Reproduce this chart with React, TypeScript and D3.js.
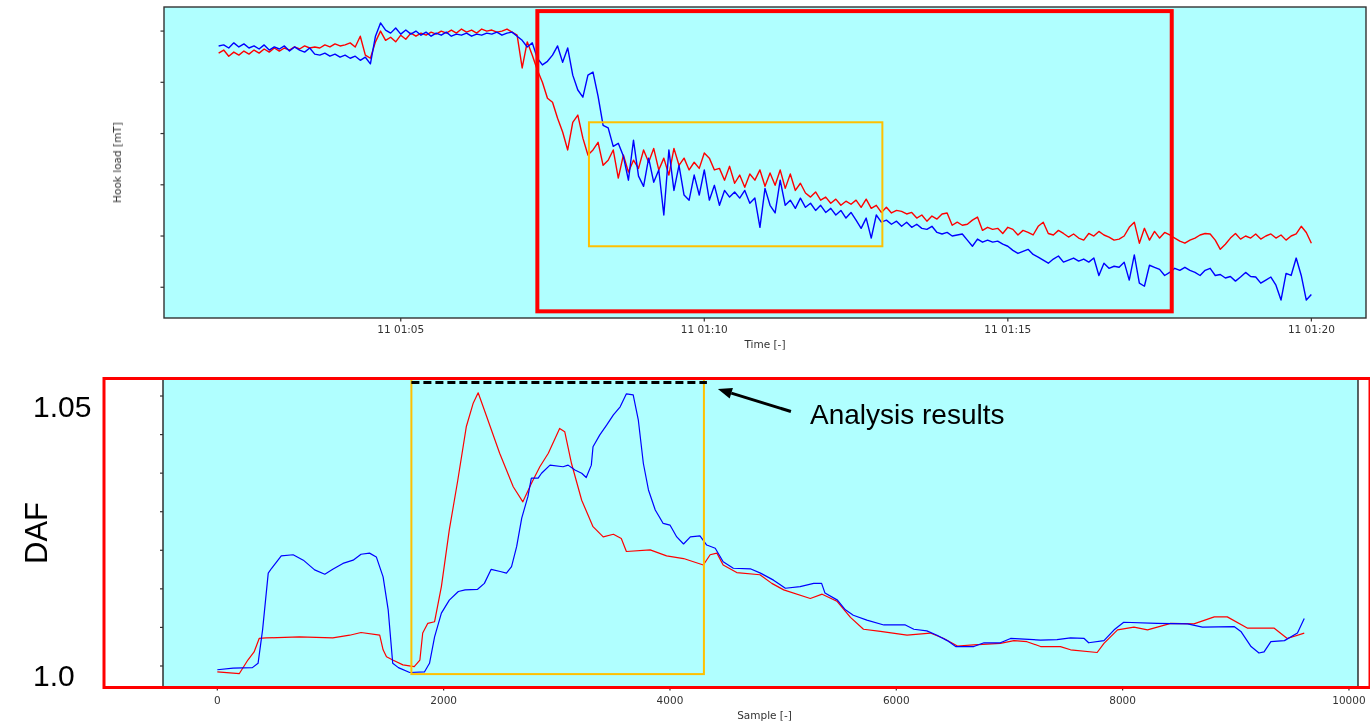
import React, { useEffect, useRef } from "react";
import * as d3 from "d3";

const W = 1370;
const H = 724;

// ---- Hook load record (upper panel), one value every 5 s from 11 01:02:00 ----
const hookStart = Date.UTC(2021, 0, 11, 1, 2, 0);
const hookStepSec = 5;

const hookLoadBlue = [
  107.1, 107.3, 106.7, 107.7, 106.9, 107.5, 106.7, 107.1, 106.5, 107.3,
  106.3, 106.9, 106.5, 107.1, 106.1, 106.9, 106.3, 105.9, 106.7, 105.5,
  105.3, 105.7, 105.1, 105.5, 104.9, 105.3, 104.7, 105.1, 104.3, 104.9,
  103.6, 109.0, 111.6, 110.2, 109.6, 110.6, 109.4, 110.2, 109.4, 110.0,
  109.2, 109.8, 109.0, 109.6, 109.2, 109.8, 109.0, 109.4, 109.2, 109.6,
  109.0, 109.4, 109.2, 109.6, 109.4, 109.8, 109.2, 109.6, 109.8, 109.0,
  108.2, 106.9, 107.7, 104.7, 103.4, 104.1, 105.3, 107.1, 103.9, 106.7,
  101.4, 98.5, 97.1, 101.4, 102.0, 97.3, 91.6, 91.1, 87.5, 88.1,
  85.6, 80.9, 88.7, 81.7, 79.7, 85.2, 80.5, 82.9, 74.1, 86.8,
  78.9, 83.8, 78.0, 77.0, 81.9, 78.0, 82.9, 77.0, 79.9, 76.0,
  78.9, 77.6, 78.6, 77.4, 78.9, 76.4, 77.4, 71.7, 79.3, 76.0,
  74.5, 80.9, 76.0, 77.0, 75.4, 77.4, 75.6, 76.4, 75.0, 76.0,
  74.6, 75.4, 74.1, 75.0, 73.5, 74.6, 73.1, 71.5, 73.5, 69.6,
  74.1, 72.7, 73.1, 72.3, 72.9, 71.9, 72.7, 71.7, 72.3, 71.5,
  71.3, 71.9, 70.7, 70.4, 70.7, 70.0, 70.2, 70.4, 69.2, 68.0,
  69.4, 68.8, 69.2, 68.8, 69.0, 68.4, 68.0, 67.2, 66.6, 67.0,
  67.4, 66.4, 65.9, 65.3, 64.7, 65.5, 66.1, 64.9, 65.3, 65.7,
  65.1, 65.5, 64.9, 65.7, 62.3, 64.7, 63.7, 64.1, 63.9, 64.9,
  61.4, 66.3, 60.8, 60.2, 64.3, 63.9, 63.5, 62.3, 62.9, 63.7,
  63.3, 63.9, 63.3, 62.9, 62.3, 63.3, 63.7, 62.3, 62.5, 61.8,
  62.1, 61.2, 62.0, 62.9, 62.1, 62.0, 60.8, 61.4, 62.0, 60.4,
  57.5, 62.7, 62.3, 65.7, 62.3, 57.5, 58.6,
];

const hookLoadRed = [
  105.7, 106.3, 105.1, 105.9, 105.3, 106.1, 105.5, 106.3, 105.7, 106.5,
  105.9, 106.7, 106.1, 106.7, 106.3, 106.9, 106.5, 107.1, 106.7, 106.9,
  106.7, 107.3, 106.9, 107.5, 107.1, 107.3, 107.7, 106.9, 109.0, 105.3,
  104.7, 107.9, 110.0, 108.2, 108.8, 107.9, 109.2, 108.4, 109.6, 109.0,
  109.6, 109.2, 109.8, 109.4, 110.0, 109.6, 110.2, 109.6, 110.4, 109.8,
  110.2, 109.6, 110.4, 110.0, 110.2, 109.8, 110.0, 110.4, 109.8, 109.2,
  102.8, 107.9, 105.3, 102.4, 100.0, 96.9, 96.1, 93.0, 90.3, 86.8,
  92.2, 93.6, 89.1, 85.8, 86.8, 88.3, 83.8, 84.8, 86.8, 81.3,
  85.8, 82.5, 84.8, 83.2, 86.8, 84.4, 87.1, 82.9, 85.2, 81.9,
  87.1, 83.8, 85.2, 82.9, 84.4, 83.2, 86.2, 85.2, 82.9, 83.2,
  80.9, 83.6, 80.3, 81.9, 79.5, 82.1, 80.9, 82.9, 79.7, 82.3,
  79.9, 82.9, 79.3, 82.1, 78.9, 80.3, 78.4, 77.6, 78.6, 77.0,
  77.6, 76.4, 77.2, 76.0, 76.8, 76.2, 77.0, 75.6, 77.2, 75.4,
  76.0, 74.6, 75.6, 74.5, 75.0, 74.8, 74.3, 74.6, 73.5, 74.1,
  72.9, 73.9, 73.3, 74.3, 74.5, 72.1, 72.7, 72.1, 72.3, 73.1,
  73.7, 71.1, 71.7, 71.3, 71.5, 70.5, 71.7, 71.3, 70.2, 71.1,
  70.7, 70.2, 71.9, 72.7, 70.5, 70.2, 71.1, 70.5, 69.8, 70.4,
  69.6, 69.2, 70.5, 70.0, 70.9, 70.2, 69.8, 69.2, 69.4, 70.0,
  71.7, 72.7, 68.6, 71.5, 69.2, 70.9, 69.6, 70.7, 70.2, 69.6,
  69.0, 68.6, 69.2, 69.6, 70.2, 70.5, 70.4, 69.2, 67.4, 68.4,
  69.6, 70.5, 69.4, 70.0, 69.6, 70.4, 69.4, 70.0, 70.4, 69.6,
  70.2, 69.2, 70.0, 70.4, 71.9, 70.7, 68.6,
];

const hookTicks = [60, 70, 80, 90, 100, 110];

// ---- Dynamic amplification factor (lower panel), [sample, DAF] ----
const dafBlue: [number, number][] = [
  [0, 0.9993], [140, 0.9996], [310, 0.9997], [360, 1.0005], [400, 1.0067],
  [450, 1.0172], [480, 1.0181], [565, 1.0204], [670, 1.0206], [760, 1.0196],
  [860, 1.0178], [950, 1.017], [1020, 1.0179], [1110, 1.019], [1200, 1.0196],
  [1270, 1.0207], [1345, 1.0209], [1405, 1.0202], [1465, 1.0165], [1510, 1.0104],
  [1550, 1.0005], [1600, 0.9997], [1700, 0.9988], [1830, 0.9989], [1875, 1.0005],
  [1920, 1.0054], [1980, 1.0098], [2050, 1.0122], [2130, 1.0138], [2190, 1.0141],
  [2300, 1.0142], [2360, 1.0153], [2420, 1.0179], [2500, 1.0175], [2555, 1.0172],
  [2600, 1.0184], [2645, 1.0221], [2690, 1.0274], [2745, 1.0314], [2775, 1.0348],
  [2835, 1.0348], [2865, 1.0357], [2940, 1.0372], [3055, 1.0369], [3100, 1.0372],
  [3160, 1.0363], [3220, 1.0357], [3260, 1.0349], [3305, 1.0372], [3320, 1.0406],
  [3380, 1.0428], [3440, 1.0446], [3500, 1.0465], [3560, 1.048], [3615, 1.0504],
  [3675, 1.0502], [3720, 1.0456], [3765, 1.0375], [3810, 1.0326], [3870, 1.0289],
  [3940, 1.0264], [4000, 1.0261], [4060, 1.0239], [4120, 1.0226], [4180, 1.0239],
  [4265, 1.0241], [4325, 1.0224], [4400, 1.0218], [4470, 1.0193], [4560, 1.0181],
  [4710, 1.018], [4800, 1.0172], [4915, 1.0159], [5020, 1.0144], [5150, 1.0147],
  [5270, 1.0153], [5340, 1.0153], [5370, 1.0135], [5480, 1.0122], [5550, 1.0104],
  [5620, 1.0094], [5740, 1.0085], [5890, 1.0076], [6080, 1.0076], [6155, 1.0068],
  [6270, 1.0065], [6360, 1.0057], [6450, 1.0047], [6525, 1.0036], [6685, 1.0036],
  [6775, 1.0043], [6920, 1.0043], [7010, 1.0051], [7275, 1.0048], [7420, 1.0049],
  [7540, 1.0052], [7660, 1.0051], [7700, 1.0043], [7835, 1.0047], [7925, 1.0067],
  [8010, 1.0081], [8305, 1.0079], [8575, 1.0078], [8705, 1.0072], [8985, 1.0073],
  [9045, 1.0064], [9135, 1.0036], [9205, 1.0024], [9250, 1.0026], [9310, 1.0045],
  [9430, 1.0047], [9545, 1.0061], [9605, 1.0088],
];

const dafRed: [number, number][] = [
  [0, 0.9989], [195, 0.9986], [270, 1.0011], [325, 1.0026], [370, 1.0051],
  [430, 1.0052], [725, 1.0054], [1020, 1.0052], [1170, 1.0057], [1270, 1.0062],
  [1435, 1.0057], [1465, 1.003], [1495, 1.0017], [1550, 1.0011], [1640, 1.0002],
  [1740, 0.9999], [1790, 1.0011], [1815, 1.0061], [1860, 1.0079], [1920, 1.0082],
  [1980, 1.0147], [2050, 1.0252], [2125, 1.0344], [2200, 1.0443], [2260, 1.0486],
  [2305, 1.0506], [2380, 1.0462], [2495, 1.0394], [2615, 1.0332], [2700, 1.0304],
  [2775, 1.0338], [2850, 1.0369], [2925, 1.0394], [3025, 1.044], [3070, 1.0434],
  [3130, 1.0375], [3220, 1.0307], [3320, 1.0258], [3410, 1.0239], [3500, 1.0244],
  [3570, 1.0236], [3615, 1.0212], [3825, 1.0215], [3970, 1.0204], [4120, 1.0199],
  [4295, 1.0187], [4355, 1.0206], [4415, 1.0209], [4470, 1.0187], [4590, 1.0173],
  [4795, 1.0169], [4900, 1.0153], [5005, 1.0141], [5240, 1.0125], [5345, 1.0133],
  [5475, 1.012], [5595, 1.009], [5710, 1.0068], [5860, 1.0064], [6095, 1.0057],
  [6300, 1.0061], [6420, 1.0051], [6540, 1.0037], [6685, 1.0039], [6920, 1.0042],
  [7040, 1.0047], [7155, 1.0045], [7275, 1.0036], [7450, 1.0036], [7540, 1.003],
  [7775, 1.0025], [7835, 1.0042], [7955, 1.0067], [8100, 1.0072], [8220, 1.0067],
  [8425, 1.0079], [8630, 1.0078], [8810, 1.0091], [8925, 1.0091], [9105, 1.007],
  [9340, 1.007], [9455, 1.0051], [9605, 1.0061],
];

const sampleTicks = [0, 2000, 4000, 6000, 8000, 10000];
const dafTickCount = 8;
const dafLabels = [
  { value: 1.0, text: "1.0" },
  { value: 1.05, text: "1.05" },
];

// Highlighted windows
const topOuterWindow = { from: Date.UTC(2021, 0, 11, 1, 7, 15), to: Date.UTC(2021, 0, 11, 1, 17, 42), lo: 55.3, hi: 113.9 };
const topInnerWindow = { from: Date.UTC(2021, 0, 11, 1, 8, 6), to: Date.UTC(2021, 0, 11, 1, 12, 56), lo: 68.0, hi: 92.2 };
const dafWindow = { from: 1715, to: 4300, lo: 0.9985 };
const analysisLevel = 1.0525;

const MPL_FONT = "'DejaVu Sans', sans-serif";
const SLIDE_FONT = "'Liberation Sans', Arial, sans-serif";
const PANEL_BG = "#b0ffff";

export default function App() {
  const ref = useRef<SVGSVGElement | null>(null);

  useEffect(() => {
    const svg = d3.select(ref.current);
    svg.selectAll("*").remove();

    const defs = svg.append("defs");
    defs.append("filter").attr("id", "soft").attr("x", "-5%").attr("y", "-5%").attr("width", "110%").attr("height", "110%")
      .append("feGaussianBlur").attr("stdDeviation", 0.45);
    defs.append("clipPath").attr("id", "clipTop").append("rect").attr("x", 164).attr("y", 7).attr("width", 1202).attr("height", 311);
    defs.append("clipPath").attr("id", "clipBot").append("rect").attr("x", 163).attr("y", 379).attr("width", 1195).attr("height", 308);

    // ================= upper panel: hook load vs time =================
    const tp = { l: 164, r: 1366, t: 7, b: 318 };
    const xT = d3.scaleUtc()
      .domain([Date.UTC(2021, 0, 11, 1, 1, 6), Date.UTC(2021, 0, 11, 1, 20, 54)])
      .range([tp.l, tp.r]);
    const yT = d3.scaleLinear().domain([54, 114.7]).range([tp.b, tp.t]);

    const top = svg.append("g");
    top.append("rect").attr("x", tp.l).attr("y", tp.t).attr("width", tp.r - tp.l).attr("height", tp.b - tp.t).attr("fill", PANEL_BG);

    const hookLine = d3.line<number>()
      .x((_, i) => xT(new Date(hookStart + i * hookStepSec * 1000)))
      .y((d) => yT(d));

    const topLines = top.append("g").attr("clip-path", "url(#clipTop)").append("g").attr("filter", "url(#soft)");
    topLines.append("path").attr("d", hookLine(hookLoadRed)).attr("fill", "none").attr("stroke", "#ff0000").attr("stroke-width", 1.4).attr("stroke-linejoin", "round");
    topLines.append("path").attr("d", hookLine(hookLoadBlue)).attr("fill", "none").attr("stroke", "#0000ff").attr("stroke-width", 1.4).attr("stroke-linejoin", "round");

    top.append("rect").attr("x", tp.l).attr("y", tp.t).attr("width", tp.r - tp.l).attr("height", tp.b - tp.t)
      .attr("fill", "none").attr("stroke", "#333").attr("stroke-width", 1.4);

    const topAxes = top.append("g").attr("filter", "url(#soft)");
    hookTicks.forEach((v) => {
      topAxes.append("line").attr("x1", tp.l - 3.5).attr("x2", tp.l).attr("y1", yT(v)).attr("y2", yT(v)).attr("stroke", "#333").attr("stroke-width", 1.2);
    });
    const timeTicks = xT.ticks(d3.utcMinute.every(5)!);
    const fmt = d3.utcFormat("%d %H:%M");
    timeTicks.forEach((t) => {
      const x = xT(t);
      topAxes.append("line").attr("x1", x).attr("x2", x).attr("y1", tp.b).attr("y2", tp.b + 3.5).attr("stroke", "#333").attr("stroke-width", 1.2);
      topAxes.append("text").attr("x", x).attr("y", tp.b + 15).attr("text-anchor", "middle")
        .attr("font-family", MPL_FONT).attr("font-size", 10.5).attr("fill", "#333").text(fmt(t));
    });
    topAxes.append("text").attr("x", (tp.l + tp.r) / 2).attr("y", 348).attr("text-anchor", "middle")
      .attr("font-family", MPL_FONT).attr("font-size", 10.5).attr("fill", "#333").text("Time [-]");
    topAxes.append("text").attr("transform", `translate(117,${(tp.t + tp.b) / 2}) rotate(-90)`).attr("text-anchor", "middle")
      .attr("dominant-baseline", "central").attr("font-family", MPL_FONT).attr("font-size", 10.5).attr("fill", "#333").text("Hook load [mT]");

    top.append("rect")
      .attr("x", xT(topOuterWindow.from)).attr("y", yT(topOuterWindow.hi))
      .attr("width", xT(topOuterWindow.to) - xT(topOuterWindow.from)).attr("height", yT(topOuterWindow.lo) - yT(topOuterWindow.hi))
      .attr("fill", "none").attr("stroke", "#ff0000").attr("stroke-width", 4);
    top.append("rect")
      .attr("x", xT(topInnerWindow.from)).attr("y", yT(topInnerWindow.hi))
      .attr("width", xT(topInnerWindow.to) - xT(topInnerWindow.from)).attr("height", yT(topInnerWindow.lo) - yT(topInnerWindow.hi))
      .attr("fill", "none").attr("stroke", "#ffc000").attr("stroke-width", 2);

    // ================= lower panel: DAF vs sample =================
    const bp = { l: 163, r: 1358, t: 379, b: 687 };
    const xB = d3.scaleLinear().domain([-480, 10080]).range([bp.l, bp.r]);
    const yB = d3.scaleLinear().domain([0.99611, 1.05315]).range([bp.b, bp.t]);

    const bot = svg.append("g");
    bot.append("rect").attr("x", bp.l).attr("y", bp.t).attr("width", bp.r - bp.l).attr("height", bp.b - bp.t).attr("fill", PANEL_BG);

    const dafLine = d3.line<[number, number]>().x((d) => xB(d[0])).y((d) => yB(d[1]));
    const botLines = bot.append("g").attr("clip-path", "url(#clipBot)").append("g").attr("filter", "url(#soft)");
    botLines.append("path").attr("d", dafLine(dafRed)).attr("fill", "none").attr("stroke", "#ff0000").attr("stroke-width", 1.2).attr("stroke-linejoin", "round");
    botLines.append("path").attr("d", dafLine(dafBlue)).attr("fill", "none").attr("stroke", "#0000ff").attr("stroke-width", 1.2).attr("stroke-linejoin", "round");

    bot.append("rect").attr("x", bp.l).attr("y", bp.t).attr("width", bp.r - bp.l).attr("height", bp.b - bp.t)
      .attr("fill", "none").attr("stroke", "#222").attr("stroke-width", 1.4);

    const botAxes = bot.append("g").attr("filter", "url(#soft)");
    const dafTicks = d3.range(dafTickCount).map((k) => 1 + (k * 0.05) / (dafTickCount - 1));
    dafTicks.forEach((v) => {
      botAxes.append("line").attr("x1", bp.l - 3).attr("x2", bp.l).attr("y1", yB(v)).attr("y2", yB(v)).attr("stroke", "#333").attr("stroke-width", 1.2);
    });
    sampleTicks.forEach((s) => {
      const x = xB(s);
      botAxes.append("line").attr("x1", x).attr("x2", x).attr("y1", bp.b).attr("y2", bp.b + 3.5).attr("stroke", "#333").attr("stroke-width", 1.2);
      botAxes.append("text").attr("x", x).attr("y", bp.b + 17).attr("text-anchor", "middle")
        .attr("font-family", MPL_FONT).attr("font-size", 10.5).attr("fill", "#333").text(String(s));
    });
    botAxes.append("text").attr("x", (bp.l + bp.r) / 2 + 4).attr("y", 719).attr("text-anchor", "middle")
      .attr("font-family", MPL_FONT).attr("font-size", 10.5).attr("fill", "#333").text("Sample [-]");

    // analysis window and result level
    bot.append("rect")
      .attr("x", xB(dafWindow.from)).attr("y", bp.t)
      .attr("width", xB(dafWindow.to) - xB(dafWindow.from)).attr("height", yB(dafWindow.lo) - bp.t)
      .attr("fill", "none").attr("stroke", "#ffc000").attr("stroke-width", 2);
    bot.append("line")
      .attr("x1", xB(dafWindow.from)).attr("x2", xB(dafWindow.to) + 3)
      .attr("y1", yB(analysisLevel)).attr("y2", yB(analysisLevel))
      .attr("stroke", "#000").attr("stroke-width", 3).attr("stroke-dasharray", "8,4");

    // arrow pointing at the result level
    const tip: [number, number] = [xB(dafWindow.to) + 14, yB(analysisLevel) + 6.5];
    const tail: [number, number] = [tip[0] + 73, tip[1] + 22.5];
    const ang = Math.atan2(tail[1] - tip[1], tail[0] - tip[0]);
    const headLen = 14, headW = 5.5;
    const base: [number, number] = [tip[0] + headLen * Math.cos(ang), tip[1] + headLen * Math.sin(ang)];
    bot.append("line").attr("x1", base[0]).attr("y1", base[1]).attr("x2", tail[0]).attr("y2", tail[1])
      .attr("stroke", "#000").attr("stroke-width", 3);
    const px = -Math.sin(ang), py = Math.cos(ang);
    bot.append("path")
      .attr("d", `M${tip[0]},${tip[1]}L${base[0] + px * headW},${base[1] + py * headW}L${base[0] - px * headW},${base[1] - py * headW}Z`)
      .attr("fill", "#000");
    bot.append("text").attr("x", 810).attr("y", 424).attr("font-family", SLIDE_FONT).attr("font-size", 28).attr("fill", "#000").text("Analysis results");

    // frame around the lower panel
    bot.append("rect").attr("x", 104).attr("y", 378.5).attr("width", 1266).attr("height", 309)
      .attr("fill", "none").attr("stroke", "#ff0000").attr("stroke-width", 3);

    dafLabels.forEach((d) => {
      bot.append("text").attr("x", 33).attr("y", yB(d.value) + 20.5)
        .attr("font-family", SLIDE_FONT).attr("font-size", 30).attr("fill", "#000").text(d.text);
    });
    bot.append("text").attr("transform", `translate(36,${(bp.t + bp.b) / 2}) rotate(-90)`).attr("text-anchor", "middle")
      .attr("dominant-baseline", "central").attr("font-family", SLIDE_FONT).attr("font-size", 31).attr("fill", "#000").text("DAF");
  }, []);

  return (
    <svg
      ref={ref}
      width={W}
      height={H}
      viewBox={`0 0 ${W} ${H}`}
      style={{ position: "absolute", left: 0, top: 0, background: "#fff", display: "block" }}
    />
  );
}
